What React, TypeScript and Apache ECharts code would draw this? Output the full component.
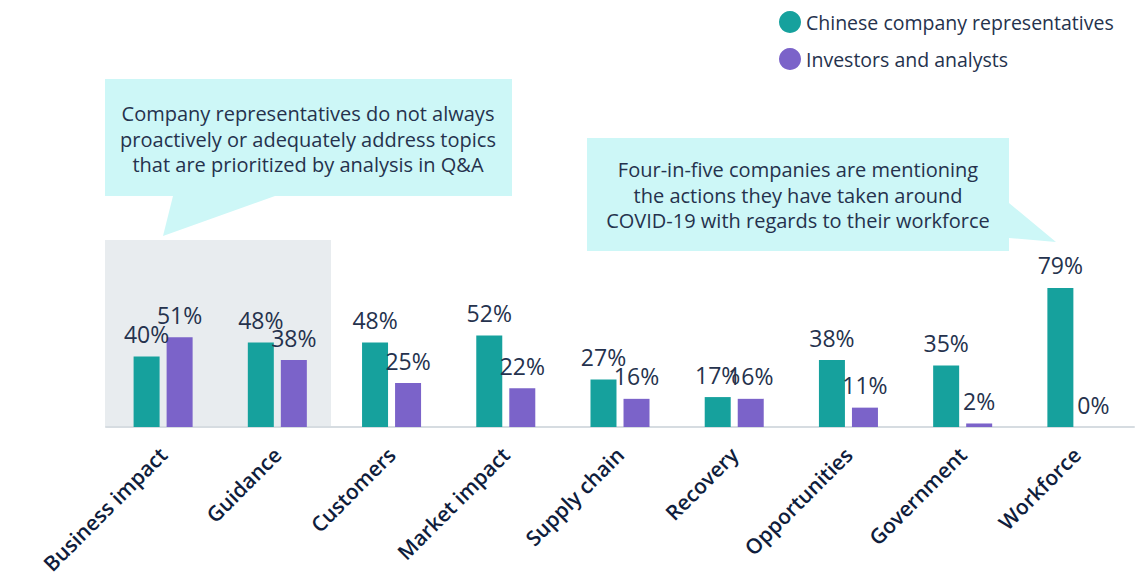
import React, { useEffect, useRef } from "react";
import * as echarts from "echarts";

const categories = [
  "Business impact",
  "Guidance",
  "Customers",
  "Market impact",
  "Supply chain",
  "Recovery",
  "Opportunities",
  "Government",
  "Workforce",
];
const companyReps = [40, 48, 48, 52, 27, 17, 38, 35, 79];
const investors = [51, 38, 25, 22, 16, 16, 11, 2, 0];
const seriesNames = ["Chinese company representatives", "Investors and analysts"];
const callout1 = "Company representatives do not always\nproactively or adequately address topics\nthat are prioritized by analysis in Q&A";
const callout2 = "Four-in-five companies are mentioning\nthe actions they have taken around\nCOVID-19 with regards to their workforce";

const FONT = "'Open Sans', 'Noto Sans', sans-serif";
const TEAL = "#16a19d";
const PURPLE = "#7b63c9";
const CALLOUT = "#cdf7f7";
const TEXT = "#25324d";

export default function App() {
  const ref = useRef<HTMLDivElement>(null);
  useEffect(() => {
    if (!ref.current) return;
    const chart = echarts.init(ref.current, undefined, { renderer: "svg" });
    const label = {
      show: true,
      position: "top",
      distance: 11,
      fontSize: 23,
      fontFamily: FONT,
      color: TEXT,
      formatter: "{c}%",
    };
    chart.setOption({
      animation: false,
      backgroundColor: "#ffffff",
      textStyle: { fontFamily: FONT },
      legend: {
        orient: "vertical",
        left: 774,
        top: 6,
        icon: "circle",
        itemWidth: 22,
        itemHeight: 22,
        itemGap: 15,
        textStyle: { fontSize: 19.5, color: TEXT, fontFamily: FONT },
        data: seriesNames,
      },
      grid: {
        left: 106,
        right: 11,
        top: 251,
        bottom: 157,
        containLabel: false,
        outerBoundsMode: "none",
      },
      xAxis: {
        type: "category",
        data: categories,
        axisLine: { lineStyle: { color: "#d6dce1", width: 2 } },
        axisTick: { show: false },
        axisLabel: {
          rotate: 45,
          interval: 0,
          margin: 24,
          fontSize: 21,
          fontWeight: 600,
          color: "#0f1d3c",
          fontFamily: FONT,
        },
      },
      yAxis: { type: "value", min: 0, max: 100, show: false, splitLine: { show: false } },
      graphic: [
        {
          type: "rect",
          z: -10,
          shape: { x: 105, y: 240, width: 226, height: 187 },
          style: { fill: "#e8ecef" },
        },
        {
          type: "polygon",
          shape: {
            points: [
              [105, 79], [512, 79], [512, 196], [275, 196], [163, 236], [173, 196], [105, 196],
            ],
          },
          style: { fill: CALLOUT },
        },
        {
          type: "text",
          x: 308,
          y: 139,
          style: {
            text: callout1,
            fontSize: 20,
            lineHeight: 25.5,
            fontFamily: FONT,
            fill: TEXT,
            align: "center",
            verticalAlign: "middle",
          },
        },
        {
          type: "polygon",
          shape: {
            points: [
              [587, 138], [1009, 138], [1009, 203], [1056, 242], [1009, 238], [1009, 251], [587, 251],
            ],
          },
          style: { fill: CALLOUT },
        },
        {
          type: "text",
          x: 798,
          y: 195,
          style: {
            text: callout2,
            fontSize: 20,
            lineHeight: 25.5,
            fontFamily: FONT,
            fill: TEXT,
            align: "center",
            verticalAlign: "middle",
          },
        },
      ],
      series: [
        {
          name: seriesNames[0],
          type: "bar",
          data: companyReps,
          barWidth: 26,
          barGap: "27%",
          itemStyle: { color: TEAL },
          label,
        },
        {
          name: seriesNames[1],
          type: "bar",
          data: investors,
          barWidth: 26,
          itemStyle: { color: PURPLE },
          label,
        },
      ],
    });
    return () => chart.dispose();
  }, []);
  return <div ref={ref} style={{ width: 1145, height: 584, margin: -8 }} />;
}
